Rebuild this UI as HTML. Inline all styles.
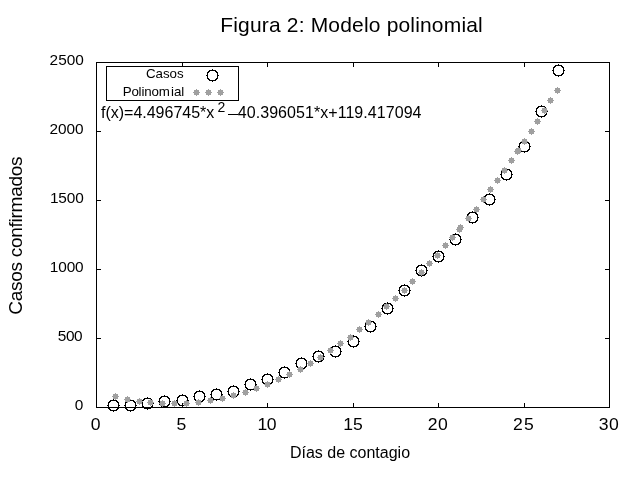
<!DOCTYPE html>
<html><head><meta charset="utf-8"><style>html,body{margin:0;padding:0;background:#fff;overflow:hidden}svg{display:block;will-change:transform}</style></head>
<body><svg width="640" height="480" viewBox="0 0 640 480" shape-rendering="crispEdges">
<rect x="0" y="0" width="640" height="480" fill="#fff"/>
<path fill="#000" d="M96 62h514v1h-514zM96 407h514v1h-514zM96 62h1v346h-1zM609 62h1v346h-1zM182 403h1v4h-1zM182 63h1v4h-1zM267 403h1v4h-1zM267 63h1v4h-1zM353 403h1v4h-1zM353 63h1v4h-1zM438 403h1v4h-1zM438 63h1v4h-1zM524 403h1v4h-1zM524 63h1v4h-1zM97 338h4v1h-4zM605 338h4v1h-4zM97 269h4v1h-4zM605 269h4v1h-4zM97 200h4v1h-4zM605 200h4v1h-4zM97 131h4v1h-4zM605 131h4v1h-4zM106 66h133v1h-133zM106 100h133v1h-133zM106 66h1v35h-1zM238 66h1v35h-1zM228 114h10v1h-10z"/>
<defs><path id="s" fill="#a0a0a0" d="M-2 -2h1v1h-1zM-2 -1h1v1h-1zM-2 0h1v1h-1zM-2 1h1v1h-1zM-2 2h1v1h-1zM-1 -2h1v1h-1zM-1 -1h1v1h-1zM-1 0h1v1h-1zM-1 1h1v1h-1zM-1 2h1v1h-1zM0 -2h1v1h-1zM0 -1h1v1h-1zM0 0h1v1h-1zM0 1h1v1h-1zM0 2h1v1h-1zM1 -2h1v1h-1zM1 -1h1v1h-1zM1 0h1v1h-1zM1 1h1v1h-1zM1 2h1v1h-1zM2 -2h1v1h-1zM2 -1h1v1h-1zM2 0h1v1h-1zM2 1h1v1h-1zM2 2h1v1h-1zM0 -3h1v1h-1zM0 3h1v1h-1zM-3 0h1v1h-1zM3 0h1v1h-1z"/><path id="c" fill="#000" d="M-6 0h1v1h-1zM-5 -3h1v1h-1zM-5 -2h1v1h-1zM-5 -1h1v1h-1zM-5 0h1v1h-1zM-5 1h1v1h-1zM-5 2h1v1h-1zM-5 3h1v1h-1zM-4 -4h1v1h-1zM-4 -3h1v1h-1zM-4 3h1v1h-1zM-4 4h1v1h-1zM-3 -5h1v1h-1zM-3 -4h1v1h-1zM-3 4h1v1h-1zM-3 5h1v1h-1zM-2 -5h1v1h-1zM-2 5h1v1h-1zM-1 -5h1v1h-1zM-1 5h1v1h-1zM0 -6h1v1h-1zM0 -5h1v1h-1zM0 5h1v1h-1zM0 6h1v1h-1zM1 -5h1v1h-1zM1 5h1v1h-1zM2 -5h1v1h-1zM2 5h1v1h-1zM3 -5h1v1h-1zM3 -4h1v1h-1zM3 4h1v1h-1zM3 5h1v1h-1zM4 -4h1v1h-1zM4 -3h1v1h-1zM4 3h1v1h-1zM4 4h1v1h-1zM5 -3h1v1h-1zM5 -2h1v1h-1zM5 -1h1v1h-1zM5 0h1v1h-1zM5 1h1v1h-1zM5 2h1v1h-1zM5 3h1v1h-1zM6 0h1v1h-1z"/></defs>
<use href="#c" x="113" y="405"/>
<use href="#c" x="130" y="405"/>
<use href="#c" x="147" y="403"/>
<use href="#c" x="164" y="401"/>
<use href="#c" x="182" y="400"/>
<use href="#c" x="199" y="396"/>
<use href="#c" x="216" y="394"/>
<use href="#c" x="233" y="391"/>
<use href="#c" x="250" y="384"/>
<use href="#c" x="267" y="379"/>
<use href="#c" x="284" y="372"/>
<use href="#c" x="301" y="363"/>
<use href="#c" x="318" y="356"/>
<use href="#c" x="335" y="351"/>
<use href="#c" x="353" y="341"/>
<use href="#c" x="370" y="326"/>
<use href="#c" x="387" y="308"/>
<use href="#c" x="404" y="290"/>
<use href="#c" x="421" y="270"/>
<use href="#c" x="438" y="256"/>
<use href="#c" x="455" y="239"/>
<use href="#c" x="472" y="217"/>
<use href="#c" x="489" y="199"/>
<use href="#c" x="506" y="174"/>
<use href="#c" x="524" y="146"/>
<use href="#c" x="541" y="111"/>
<use href="#c" x="558" y="70"/>
<use href="#c" x="212" y="75"/>
<use href="#s" x="115" y="396"/>
<use href="#s" x="127" y="399"/>
<use href="#s" x="139" y="401"/>
<use href="#s" x="150" y="402"/>
<use href="#s" x="162" y="403"/>
<use href="#s" x="174" y="403"/>
<use href="#s" x="186" y="403"/>
<use href="#s" x="198" y="402"/>
<use href="#s" x="210" y="400"/>
<use href="#s" x="222" y="398"/>
<use href="#s" x="233" y="395"/>
<use href="#s" x="245" y="392"/>
<use href="#s" x="256" y="388"/>
<use href="#s" x="267" y="384"/>
<use href="#s" x="278" y="379"/>
<use href="#s" x="289" y="374"/>
<use href="#s" x="300" y="369"/>
<use href="#s" x="310" y="363"/>
<use href="#s" x="320" y="357"/>
<use href="#s" x="330" y="350"/>
<use href="#s" x="340" y="343"/>
<use href="#s" x="350" y="337"/>
<use href="#s" x="359" y="329"/>
<use href="#s" x="368" y="322"/>
<use href="#s" x="378" y="314"/>
<use href="#s" x="386" y="306"/>
<use href="#s" x="395" y="298"/>
<use href="#s" x="404" y="290"/>
<use href="#s" x="412" y="281"/>
<use href="#s" x="421" y="272"/>
<use href="#s" x="429" y="263"/>
<use href="#s" x="437" y="255"/>
<use href="#s" x="445" y="245"/>
<use href="#s" x="452" y="237"/>
<use href="#s" x="459" y="229"/>
<use href="#s" x="460" y="227"/>
<use href="#s" x="468" y="218"/>
<use href="#s" x="476" y="209"/>
<use href="#s" x="483" y="199"/>
<use href="#s" x="490" y="189"/>
<use href="#s" x="497" y="180"/>
<use href="#s" x="504" y="170"/>
<use href="#s" x="511" y="160"/>
<use href="#s" x="517" y="151"/>
<use href="#s" x="518" y="150"/>
<use href="#s" x="524" y="141"/>
<use href="#s" x="531" y="131"/>
<use href="#s" x="537" y="121"/>
<use href="#s" x="544" y="110"/>
<use href="#s" x="550" y="100"/>
<use href="#s" x="557" y="90"/>
<use href="#s" x="196" y="92"/>
<use href="#s" x="208" y="92"/>
<use href="#s" x="220" y="92"/>
<g fill="#000" style="font-family:'Liberation Sans',sans-serif"><text x="351.5" y="32" font-size="21" text-anchor="middle" textLength="262.5" lengthAdjust="spacing">Figura 2: Modelo polinomial</text><text transform="translate(21.5 235.6) rotate(-90)" font-size="19.1" text-anchor="middle" textLength="158.5" lengthAdjust="spacing">Casos confirmados</text><text x="350" y="458" font-size="16" text-anchor="middle">Días de contagio</text><text x="74.75" y="410.45" font-size="15.4">0</text><text x="57.75" y="341.45" font-size="15.4" textLength="24.86" lengthAdjust="spacing">500</text><text x="49.81" y="272.45" font-size="15.4" textLength="33.81" lengthAdjust="spacing">1000</text><text x="49.91" y="203.45" font-size="15.4" textLength="33.81" lengthAdjust="spacing">1500</text><text x="49.52" y="134.45" font-size="15.4" textLength="34.1" lengthAdjust="spacing">2000</text><text x="49.62" y="65.45" font-size="15.4" textLength="34.25" lengthAdjust="spacing">2500</text><text transform="translate(90.77 430) scale(1.1 1)" font-size="16">0</text><text transform="translate(176.61 430) scale(1.1 1)" font-size="16">5</text><text transform="translate(257.39 430) scale(1.1 1)" font-size="16" textLength="17.47" lengthAdjust="spacing">10</text><text transform="translate(343.24 430) scale(1.1 1)" font-size="16" textLength="17.66" lengthAdjust="spacing">15</text><text transform="translate(427.63 430) scale(1.1 1)" font-size="16" textLength="18.35" lengthAdjust="spacing">20</text><text transform="translate(512.93 430) scale(1.1 1)" font-size="16" textLength="18.95" lengthAdjust="spacing">25</text><text transform="translate(598.71 430) scale(1.1 1)" font-size="16" textLength="18.18" lengthAdjust="spacing">30</text><text x="145.89" y="78.4" font-size="13.33" textLength="37.79" lengthAdjust="spacing">Casos</text><text y="95.7" font-size="13.33"><tspan x="122.69" textLength="47.05" lengthAdjust="spacing">Polinom</tspan><tspan x="171.01">ial</tspan></text><text x="101.0" y="118" font-size="16" textLength="113.3" lengthAdjust="spacing">f(x)=4.496745*x</text><text x="217.5" y="111.8" font-size="14">2</text><text x="237.8" y="118" font-size="16" textLength="183.7" lengthAdjust="spacing">40.396051*x+119.417094</text></g>
</svg></body></html>
